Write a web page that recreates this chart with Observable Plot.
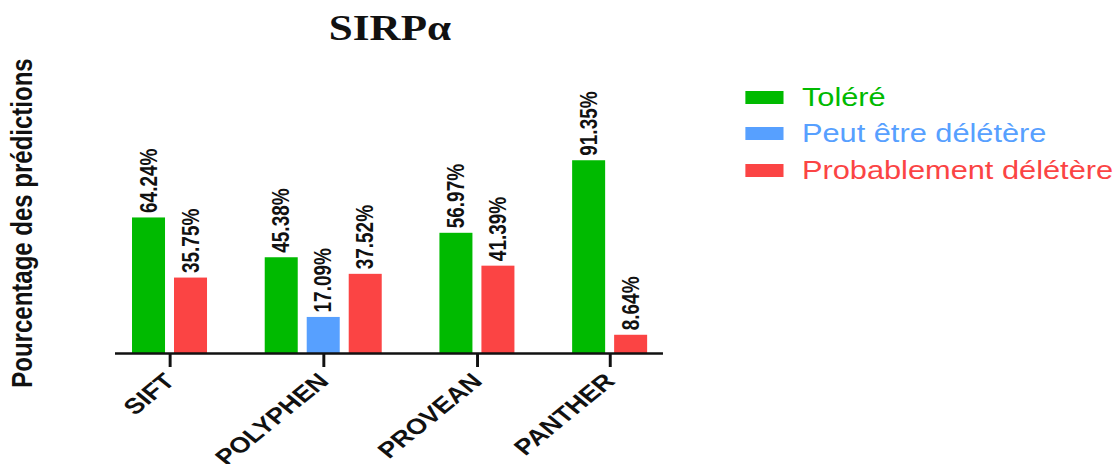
<!DOCTYPE html>
<html>
<head>
<meta charset="utf-8">
<script src="https://cdn.jsdelivr.net/npm/d3@7"></script>
<script src="https://cdn.jsdelivr.net/npm/@observablehq/plot@0.6"></script>
<style>
  html, body { margin: 0; padding: 0; background: #fff; overflow: hidden; }
  #stage {
    position: absolute; left: 0; top: 0; width: 907px; height: 464px;
    transform: scale(1.23, 1); transform-origin: 0 0;
    font-family: "Liberation Sans", Arial, sans-serif;
  }
  #title {
    position: absolute; left: 317px; top: 29px; transform: translate(-50%, -50%);
    font-family: "Liberation Serif", "Times New Roman", serif; font-weight: bold; font-size: 35px;
    color: #111; white-space: nowrap;
  }
  #ylabel {
    position: absolute; left: 18px; top: 223px; transform: translate(-50%, -50%) rotate(-90deg);
    font-size: 24px; font-weight: bold; color: #111; white-space: nowrap;
  }
  #legend { position: absolute; left: 606px; top: 79px; }
  .row { height: 36.5px; display: flex; align-items: center; }
  .sw { width: 31px; height: 13px; margin-right: 15px; }
  .lab { font-size: 25px; white-space: nowrap; }
  #chart { position: absolute; left: 0; top: 0; }
</style>
</head>
<body>
<div id="stage">
  <div id="chart"></div>
  <div id="title"></div>
  <div id="ylabel"></div>
  <div id="legend"></div>
</div>
<script>
// ---- data ----
const titleText = "SIRPα";
const yLabel = "Pourcentage des prédictions";
const tools = ["SIFT", "POLYPHEN", "PROVEAN", "PANTHER"];
const series = ["Toléré", "Peut être délétère", "Probablement délétère"];
const tolere = [64.24, 45.38, 56.97, 91.35];
const peutEtre = [null, 17.09, null, null];
const probablement = [35.75, 37.52, 41.39, 8.64];
const colors = ["#00BA00", "#57A0FF", "#FB4444"];

// ---- build table ----
const valuesBySeries = [tolere, peutEtre, probablement];
const GROUP_GAP = 2.16;  // advance (in bar steps) between groups
const HALF = 0.393;      // half bar width (in bar steps)
const rows = [];
const groups = [];
let pos = null;
tools.forEach((tool, i) => {
  const ps = [];
  series.forEach((s, j) => {
    const v = valuesBySeries[j][i];
    if (v == null) return;
    pos = pos == null ? 0 : (ps.length === 0 ? pos + GROUP_GAP : pos + 1);
    ps.push(pos);
    rows.push({tool, series: s, value: v, pos});
  });
  groups.push({tool, center: d3.mean(ps)});
});
const nameAt = new Map(groups.map(g => [g.center, g.tool]));
const minPos = d3.min(rows, d => d.pos), maxPos = d3.max(rows, d => d.pos);

document.getElementById("title").textContent = titleText;
document.getElementById("ylabel").textContent = yLabel;

const legend = document.getElementById("legend");
series.forEach((s, j) => {
  const r = document.createElement("div"); r.className = "row";
  const sw = document.createElement("div"); sw.className = "sw"; sw.style.background = colors[j];
  const lb = document.createElement("div"); lb.className = "lab"; lb.style.color = colors[j]; lb.textContent = s;
  r.appendChild(sw); r.appendChild(lb); legend.appendChild(r);
});

const chart = Plot.plot({
  width: 560,
  height: 464,
  marginLeft: 93.5,
  marginRight: 21,
  marginTop: 142,
  marginBottom: 111,
  style: {fontFamily: "'Liberation Sans', Arial, sans-serif", color: "#111", background: "transparent", overflow: "visible"},
  x: {type: "linear", domain: [minPos - 0.798, maxPos + 0.77], axis: null},
  y: {domain: [0, 100], axis: null},
  color: {domain: series, range: colors},
  marks: [
    Plot.rect(rows, {x1: d => d.pos - HALF, x2: d => d.pos + HALF, y1: 0, y2: "value", fill: "series"}),
    Plot.text(rows, {x: "pos", y: "value", text: d => d.value.toFixed(2) + "%", rotate: -90,
      textAnchor: "start", lineAnchor: "middle", dy: -5, fontSize: 19, fontWeight: "bold", fill: "#111"}),
    Plot.ruleY([0], {stroke: "#111", strokeWidth: 2.6}),
    Plot.axisX(groups.map(g => g.center), {
      tickFormat: v => nameAt.get(v), tickRotate: -45, tickSize: 14, tickPadding: 10,
      fontSize: 22, fontWeight: "bold", stroke: "#111", strokeWidth: 2.4, fill: "#111", label: null
    })
  ]
});
document.getElementById("chart").appendChild(chart);
</script>
</body>
</html>
